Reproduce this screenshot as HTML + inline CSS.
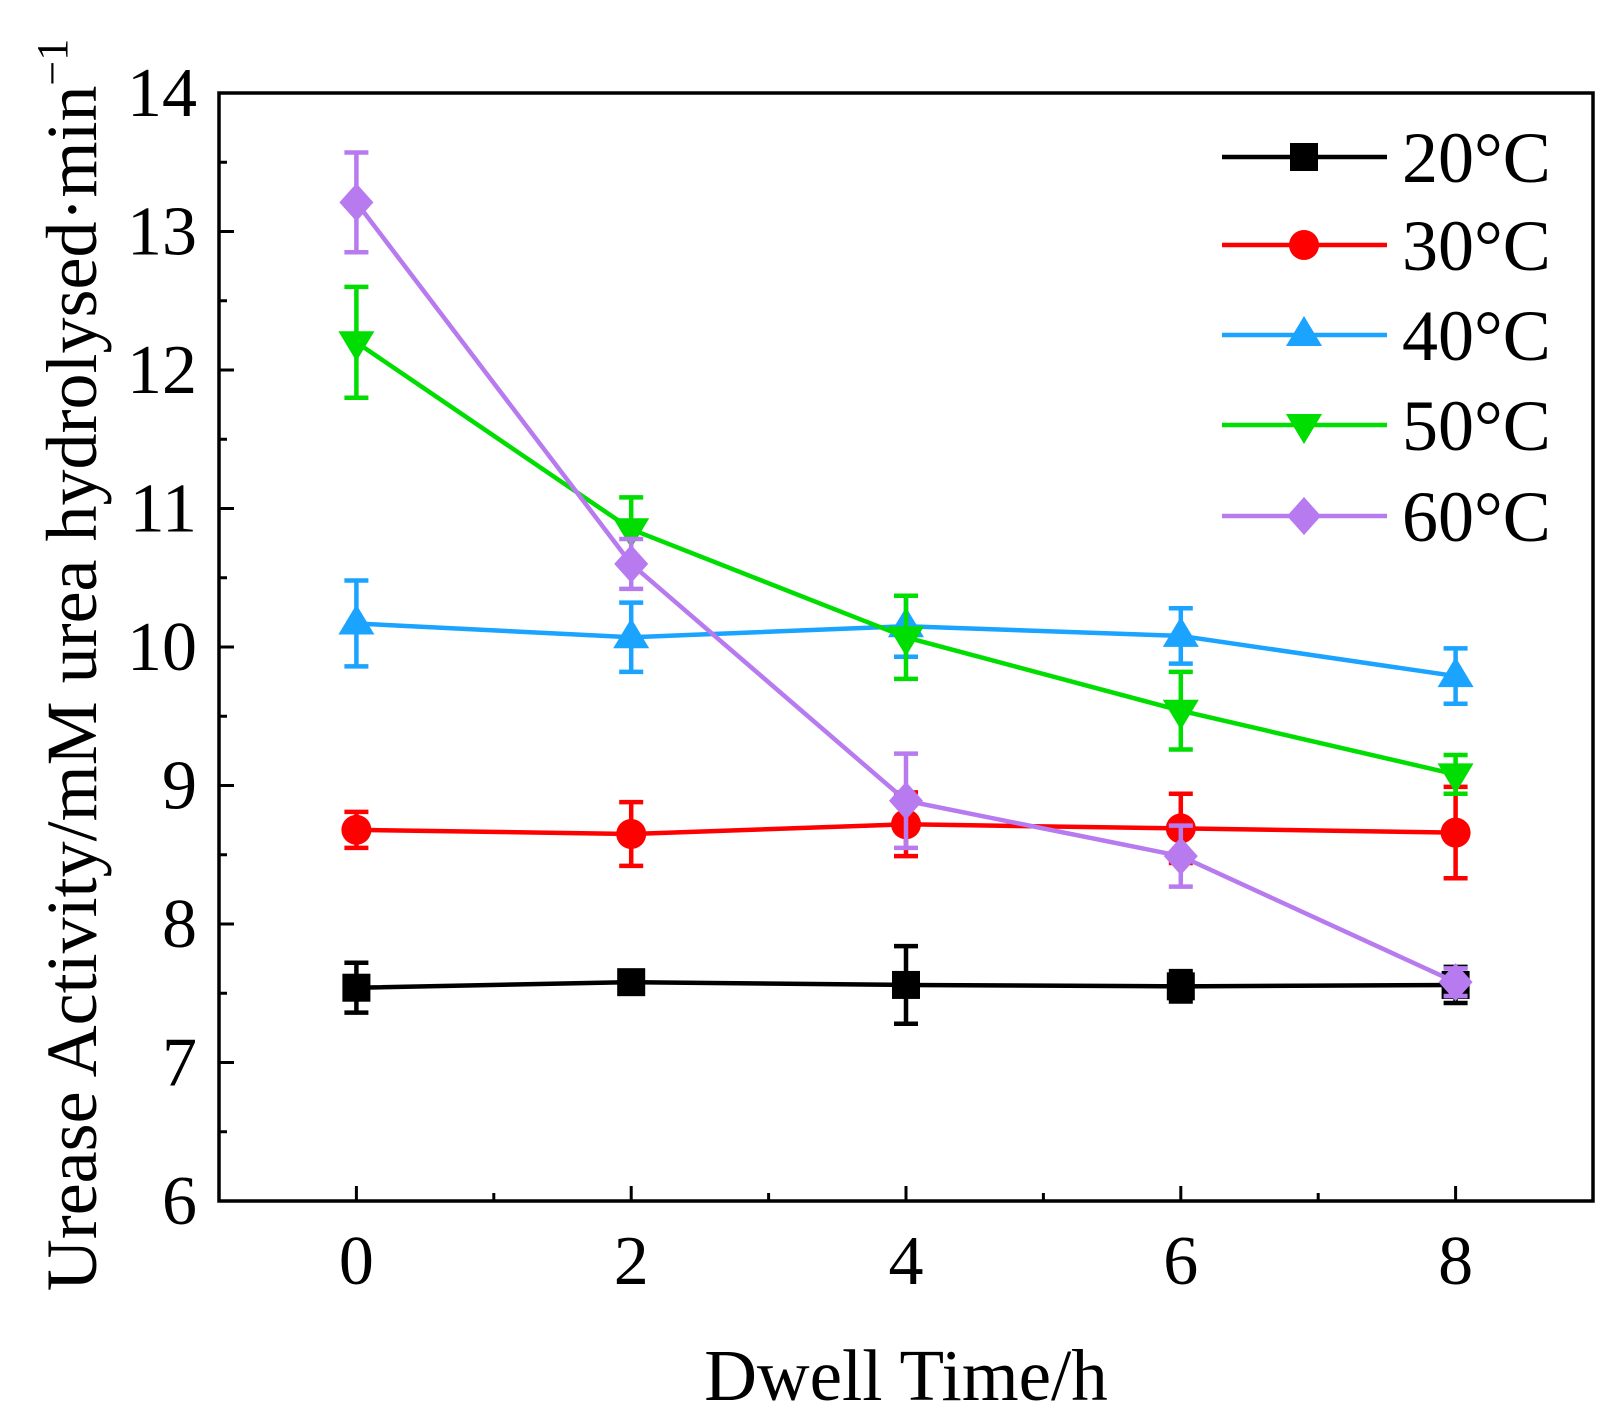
<!DOCTYPE html>
<html><head><meta charset="utf-8"><style>
html,body{margin:0;padding:0;background:#fff}
svg{display:block;font-family:"Liberation Serif",serif}
</style></head><body>
<svg id="chart" width="1617" height="1428" viewBox="0 0 1617 1428" xmlns="http://www.w3.org/2000/svg">
<g id="plot"></g>
</svg>
<script>
const categories=[0,2,4,6,8];
const seriesNames=["20°C","30°C","40°C","50°C","60°C"];
const v20=[7.54,7.58,7.56,7.55,7.56];
const e20=[0.18,0.08,0.28,0.11,0.13];
const v30=[8.68,8.65,8.72,8.69,8.66];
const e30=[0.13,0.23,0.23,0.25,0.33];
const v40=[10.17,10.07,10.15,10.08,9.79];
const e40=[0.31,0.25,0.22,0.20,0.20];
const v50=[12.2,10.85,10.07,9.54,9.08];
const e50=[0.40,0.23,0.30,0.28,0.14];
const v60=[13.21,10.6,8.89,8.49,7.58];
const e60=[0.36,0.18,0.34,0.22,0.10];
const yTicks=[6,7,8,9,10,11,12,13,14];
const xTicks=[0,2,4,6,8];

const NS="http://www.w3.org/2000/svg";
const L=219,R=1593,T=93,B=1201;
const xMin=-1,xMax=9,yMin=6,yMax=14;
function xs(v){return L+(v-xMin)/(xMax-xMin)*(R-L);}
function ys(v){return B-(v-yMin)/(yMax-yMin)*(B-T);}
const g=document.getElementById('plot');
function mk(tag,attrs,parent){const e=document.createElementNS(NS,tag);for(const k in attrs)e.setAttribute(k,attrs[k]);(parent||g).appendChild(e);return e;}

yTicks.forEach(t=>{
  const y=ys(t);
  const tk=mk('line',{x1:L,x2:L+15,y1:y,y2:y,stroke:'#000','stroke-width':3});
  
  
  if(t<yMax){const m=ys(t+0.5);const mt=mk('line',{x1:L,x2:L+8,y1:m,y2:m,stroke:'#000','stroke-width':3});
    
    }
  const lb=mk('text',{x:L-22,y:y+23,'text-anchor':'end','font-size':70,fill:'#000'});
  lb.textContent=t;
  
  
});
xTicks.forEach(t=>{
  const x=xs(t);
  const tk=mk('line',{x1:x,x2:x,y1:B,y2:B-15,stroke:'#000','stroke-width':3});
  
  
  if(t<8){const m=xs(t+1);const mt=mk('line',{x1:m,x2:m,y1:B,y2:B-8,stroke:'#000','stroke-width':3});
    
    }
  const lb=mk('text',{x:x,y:1284,'text-anchor':'middle','font-size':70,fill:'#000'});
  lb.textContent=t;
  
  
});

const colors=['#000000','#ff0000','#1aa3ff','#00dd00','#b77aef'];
const vals=[v20,v30,v40,v50,v60];
const errs=[e20,e30,e40,e50,e60];
const shapes=['square','circle','up','down','diamond'];
function marker(shape,x,y,c,parent){
  let e;
  if(shape==='square')e=mk('rect',{x:x-14,y:y-14,width:28,height:28,fill:c},parent);
  else if(shape==='circle')e=mk('circle',{cx:x,cy:y,r:15,fill:c},parent);
  else if(shape==='up')e=mk('polygon',{points:`${x},${y-19} ${x+18},${y+11} ${x-18},${y+11}`,fill:c},parent);
  else if(shape==='down')e=mk('polygon',{points:`${x},${y+19} ${x+18},${y-11} ${x-18},${y-11}`,fill:c},parent);
  else e=mk('polygon',{points:`${x},${y-19} ${x+17},${y} ${x},${y+19} ${x-17},${y}`,fill:c},parent);
  return e;
}
vals.forEach((vs,si)=>{
  const c=colors[si];
  const sg=mk('g',{});
  
  
  const pts=vs.map((v,i)=>xs(categories[i])+','+ys(v)).join(' ');
  const pl=mk('polyline',{points:pts,fill:'none',stroke:c,'stroke-width':4.5},sg);
  
  
  vs.forEach((v,i)=>{
    const x=xs(categories[i]),y1=ys(v+errs[si][i]),y2=ys(v-errs[si][i]);
    const eb=mk('path',{d:`M${x},${y1}V${y2}M${x-12},${y1}H${x+12}M${x-12},${y2}H${x+12}`,stroke:c,'stroke-width':4.5,fill:'none'},sg);
    
    
    const m=marker(shapes[si],x,ys(v),c,sg);
    
    
  });
  const ly=[157,245,335,425,516][si];
  const lg=mk('g',{});
  
  
  mk('line',{x1:1222,x2:1387,y1:ly,y2:ly,stroke:c,'stroke-width':4.5},lg);
  marker(shapes[si],1304,ly,c,lg);
  const lt=mk('text',{x:1402,y:ly+25,'font-size':72,fill:'#000'},lg);
  lt.textContent=seriesNames[si];
});

const fr=mk('rect',{x:L,y:T,width:R-L,height:B-T,fill:'none',stroke:'#000','stroke-width':3.5});


const xt=mk('text',{x:906,y:1400,'text-anchor':'middle','font-size':73,fill:'#000'});
xt.textContent='Dwell Time/h';


const yt=mk('text',{transform:'translate(96,665) rotate(-90)','text-anchor':'middle','font-size':72,fill:'#000'});
yt.innerHTML='Urease Activity/mM urea hydrolysed·min<tspan dy="-29" font-size="44">−1</tspan>';


</script>
</body></html>
